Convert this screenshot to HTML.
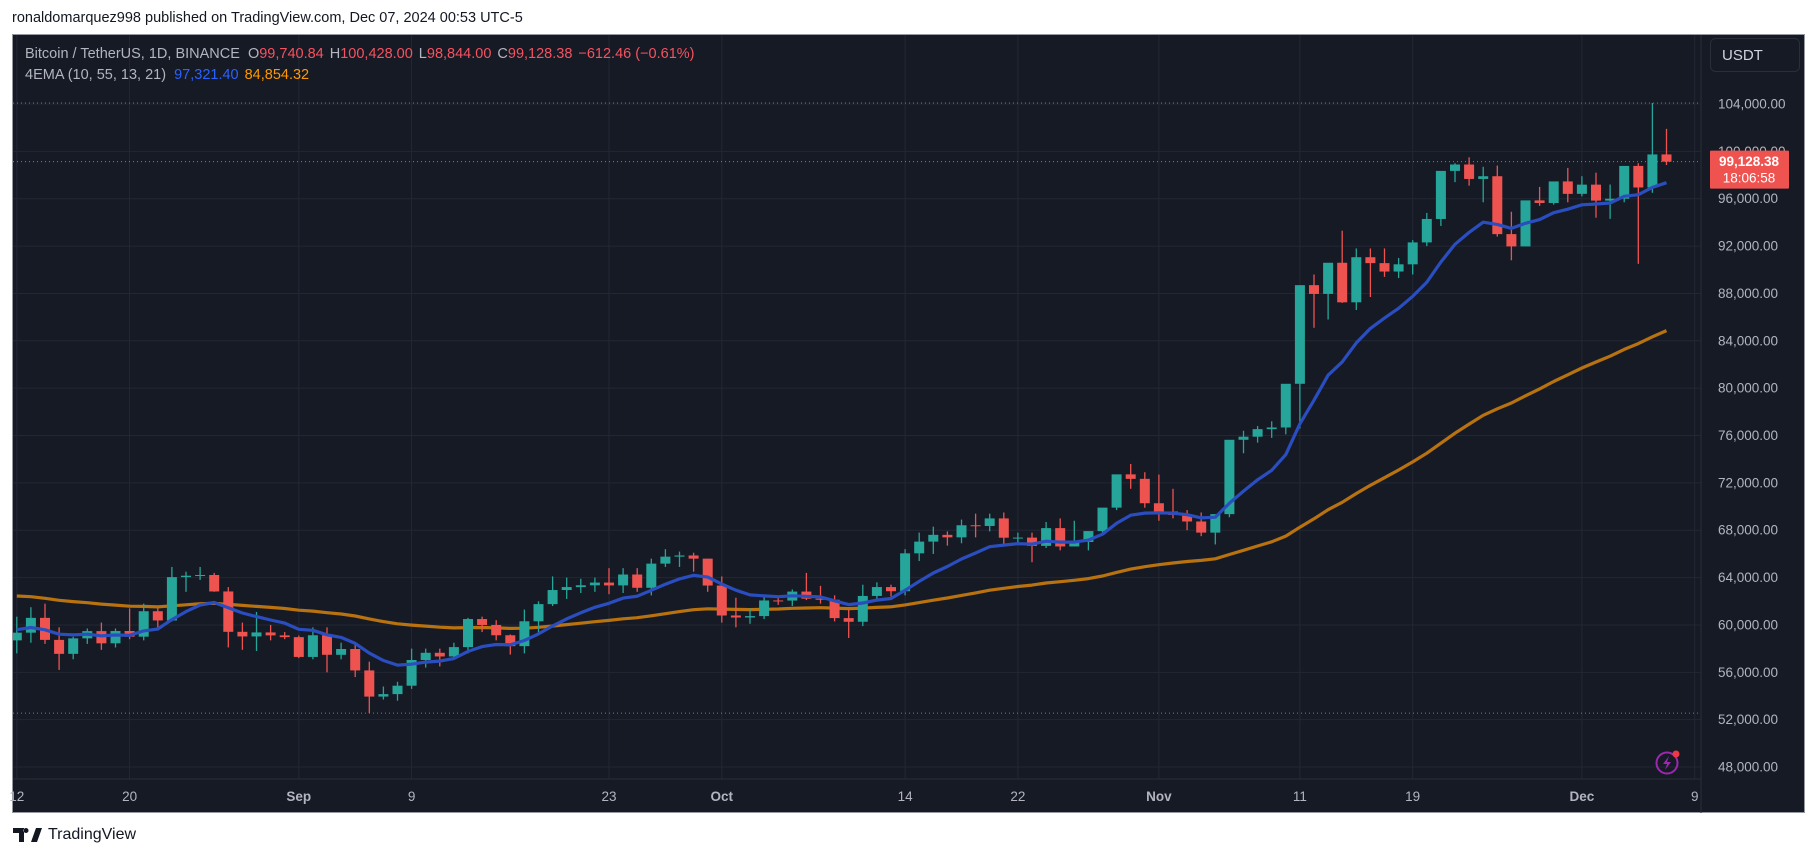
<!DOCTYPE html>
<html><head><meta charset="utf-8">
<style>
body{margin:0;width:1814px;height:858px;background:#fff;overflow:hidden;font-family:"Liberation Sans",sans-serif;position:relative}
#hdr{position:absolute;left:12px;top:10px;font-size:14.5px;color:#131722}
#panel{position:absolute;left:12px;top:34px;width:1793px;height:779px;background:#161a25;border:1px solid #9598a1;box-sizing:border-box}
#logo{position:absolute;left:13px;top:826px;font-size:16px;color:#131722;display:flex;align-items:center;gap:5px}
</style></head><body>
<div id="hdr">ronaldomarquez998 published on TradingView.com, Dec 07, 2024 00:53 UTC-5</div>
<div id="panel"></div>
<svg id="chart" width="1814" height="858" style="position:absolute;left:0;top:0" font-family="Liberation Sans, sans-serif"></svg>
<div id="logo"><svg width="30" height="14" viewBox="0 0 30 14"><path d="M0 0h11v14H6V5H0z M13 0a2.5 2.5 0 1 0 0.01 0z" fill="#131722"/><path d="M18 14L23 0h6l-5 14z" fill="#131722"/></svg><span>TradingView</span></div>
<script>
const opens=[58700,59350,60600,58740,57560,58870,59480,58450,59490,59010,61160,60380,64040,64160,64220,62830,59420,59030,59370,59120,58970,57300,59130,57480,57970,56160,53950,54160,54870,57040,57650,57340,58130,60500,60000,59130,58210,60310,61760,62950,63200,63350,63580,63340,64260,63140,65180,65770,65870,65600,63330,60800,60630,60750,62070,62060,62820,62220,62130,60580,60270,62450,63200,62850,66050,67040,67610,67400,68420,68360,69000,67370,67380,66680,68180,66630,67010,67930,69910,72720,72340,70280,69580,69300,68740,67800,69360,75640,75900,76540,76680,80370,88700,87960,90590,87250,91060,90560,89850,90460,92310,94290,98350,98890,97670,97900,93010,91970,95860,95640,97460,96410,97190,95840,96000,98770,96950,99740];
const closes=[59350,60600,58740,57560,58870,59480,58450,59490,59010,61160,60380,64040,64160,64220,62830,59420,59030,59370,59120,58970,57300,59130,57480,57970,56160,53950,54160,54870,57040,57650,57340,58130,60500,60000,59130,58210,60310,61760,62950,63200,63350,63580,63340,64260,63140,65180,65770,65870,65600,63330,60800,60630,60750,62070,62060,62820,62220,62130,60580,60270,62450,63200,62850,66050,67040,67610,67400,68420,68360,69000,67370,67380,66680,68180,66630,67010,67930,69910,72720,72340,70280,69580,69300,68740,67800,69360,75640,75900,76540,76680,80370,88700,87960,90590,87250,91060,90560,89850,90460,92310,94290,98350,98890,97670,97900,93010,91970,95860,95640,97460,96410,97190,95840,96000,98770,96950,99740,99128];
const highs=[60700,61500,61800,59800,59000,59700,60200,59700,61400,61800,61400,64900,64500,64900,64400,63200,60200,61100,60000,59400,59100,59800,59800,58500,58300,56900,54800,55200,58000,58000,58000,58500,60600,60700,60400,59200,61300,62000,64100,64000,63900,64000,64800,64800,64800,65600,66400,66200,66100,65600,64100,62300,61400,62400,62300,63000,64400,63300,62500,61300,63400,63600,63400,66400,67800,68300,67900,68900,69400,69400,69500,67800,67800,68700,69000,68800,67400,68100,71300,73600,72900,72700,71500,69700,69500,67800,70400,76400,76800,77200,77000,81500,89600,89300,93300,91800,91800,91800,91000,92500,94800,95000,99000,99500,98700,98800,94900,94700,97000,96900,98600,97900,98200,97200,97900,99000,104088,101900,100428];
const lows=[57600,58500,58400,56200,57100,58400,57900,58100,58800,58700,59800,60300,62800,63800,62800,58100,57900,57800,58700,58800,57200,57100,56000,57100,55600,52550,53700,53600,54600,56400,56500,57300,57600,59400,58700,57500,57600,59200,61600,62200,62700,62800,62600,62700,62800,62500,64900,64900,64500,62800,60200,59800,60100,60500,61700,61600,62100,61800,60300,58900,59900,62000,62400,62500,65400,66000,66700,66900,67400,67900,66800,66800,65300,66500,66300,66700,66300,67600,69700,71500,69900,68800,69000,68000,67500,66800,69100,74500,75400,75800,76100,76600,85100,85800,87200,86600,87700,89400,89300,89600,92000,93700,97400,97100,95700,92800,90800,93200,95400,95500,95700,96200,94400,94300,95700,90500,96500,98844];
const ema10Seed=59600, ema55Seed=62450;
const priceTicks=[104000,100000,96000,92000,88000,84000,80000,76000,72000,68000,64000,60000,56000,52000,48000];
const dateLabels=["12","20","Sep","9","23","Oct","14","22","Nov","11","19","Dec","9"];
const dateIdx=[0,8,20,28,42,50,63,71,81,91,99,111,119];
const boldLabels=["Sep","Oct","Nov","Dec"];
const lastPrice=99128.38, rangeHigh=104088, rangeLow=52550;

const NS="http://www.w3.org/2000/svg";
const svg=document.getElementById('chart');
const L=13,R=1701,T=35,B=779;
const y=p=>104+(104000-p)/4000*47.36;
const x=i=>16.8+i*14.1;
function mk(t,a,p){const e=document.createElementNS(NS,t);for(const k in a)e.setAttribute(k,a[k]);(p||svg).appendChild(e);return e;}
const clip=mk('clipPath',{id:'pc'});mk('rect',{x:L,y:T,width:R-L,height:B-T},clip);
const plot=mk('g',{'clip-path':'url(#pc)'});


priceTicks.forEach(p=>{const g=mk('line',{x1:L,x2:R,y1:y(p),y2:y(p),stroke:'#232734','stroke-width':1},plot);

});
dateIdx.forEach(i=>{const g=mk('line',{x1:x(i),x2:x(i),y1:T,y2:B,stroke:'#232734','stroke-width':1},plot);

});
[rangeHigh,rangeLow].forEach(p=>{const l=mk('line',{x1:L,x2:R,y1:y(p),y2:y(p),stroke:'#787b86','stroke-width':1,'stroke-dasharray':'1 3'},plot);

});
const cl=mk('line',{x1:L,x2:R,y1:y(lastPrice),y2:y(lastPrice),stroke:'#ef5350','stroke-width':1,'stroke-dasharray':'1 3'},plot);


// EMAs
function ema(seed,n){const k=2/(n+1);let v=seed;return closes.map((c,i)=>{v=i===0?seed:c*k+v*(1-k);return v;});}
const e10=ema(ema10Seed,10),e55=ema(ema55Seed,55);
const p55=mk('path',{d:e55.map((v,i)=>(i?'L':'M')+x(i).toFixed(1)+' '+y(v).toFixed(1)).join(''),fill:'none',stroke:'#b8720f','stroke-width':3.2,'stroke-linejoin':'round'},plot);


// candles
closes.forEach((c,i)=>{const o=opens[i],up=c>=o,col=up?'#26a69a':'#ef5350';
const g=mk('g',{},plot);


mk('line',{x1:x(i),x2:x(i),y1:y(highs[i]),y2:y(lows[i]),stroke:col,'stroke-width':1.3},g);
const t=y(Math.max(o,c)),b=y(Math.min(o,c));
mk('rect',{x:x(i)-5,y:t,width:10,height:Math.max(1,b-t),fill:col},g);});
const p10=mk('path',{d:e10.map((v,i)=>(i?'L':'M')+x(i).toFixed(1)+' '+y(v).toFixed(1)).join(''),fill:'none',stroke:'#2a4ebf','stroke-width':3.2,'stroke-linejoin':'round'},plot);


// axes separators
mk('line',{x1:R,x2:R,y1:T,y2:813,stroke:'#2a2e39','stroke-width':1});
mk('line',{x1:L,x2:R,y1:B,y2:B,stroke:'#2a2e39','stroke-width':1});
priceTicks.forEach(p=>{const t=mk('text',{x:1718,y:y(p)+4.5,fill:'#b2b5be','font-size':13.5});t.textContent=p.toLocaleString('en-US',{minimumFractionDigits:2});

});
dateLabels.forEach((s,i)=>{const t=mk('text',{x:x(dateIdx[i]),y:801,fill:'#b2b5be','font-size':13.5,'text-anchor':'middle','font-weight':boldLabels.includes(s)?'bold':'normal'});t.textContent=s;

});
// last price badge
const bg=mk('g',{});


const by=y(lastPrice);
mk('rect',{x:1710,y:by-11,width:79,height:38,fill:'#ef5350',rx:1},bg);
const t1=mk('text',{x:1749,y:by+4.5,fill:'#fff','font-size':13.5,'text-anchor':'middle','font-weight':'bold'},bg);t1.textContent=lastPrice.toLocaleString('en-US',{minimumFractionDigits:2});
const t2=mk('text',{x:1749,y:by+21,fill:'#fff','font-size':13.5,'text-anchor':'middle'},bg);t2.textContent='18:06:58';
// USDT box
const ub=mk('g',{});


mk('rect',{x:1710.5,y:38.5,width:89,height:33,rx:5,fill:'#161a25',stroke:'#2a2e39'},ub);
const ut=mk('text',{x:1722,y:60,fill:'#d1d4dc','font-size':15},ub);ut.textContent='USDT';
// legend
const lg=mk('text',{x:25,y:58,'font-size':14.5,fill:'#b2b5be'});


lg.innerHTML='Bitcoin / TetherUS, 1D, BINANCE <tspan dx="4">O</tspan><tspan fill="#f7525f">99,740.84</tspan><tspan dx="6">H</tspan><tspan fill="#f7525f">100,428.00</tspan><tspan dx="6">L</tspan><tspan fill="#f7525f">98,844.00</tspan><tspan dx="6">C</tspan><tspan fill="#f7525f">99,128.38</tspan><tspan dx="6" fill="#f7525f">−612.46 (−0.61%)</tspan>';
const lg2=mk('text',{x:25,y:79,'font-size':14.5,fill:'#b2b5be'});


lg2.innerHTML='4EMA (10, 55, 13, 21) <tspan dx="4" fill="#2962ff">97,321.40</tspan><tspan dx="6" fill="#ff9800">84,854.32</tspan>';
// lightning icon
const li=mk('g',{});


mk('circle',{cx:1667,cy:763,r:10.5,fill:'none',stroke:'#9c27b0','stroke-width':2},li);
mk('path',{d:'M1669 756l-6 8h4l-2 6 6-8h-4z',fill:'#9c27b0'},li);
mk('circle',{cx:1676,cy:754,r:3.5,fill:'#f23645'},li);
</script>
</body></html>
